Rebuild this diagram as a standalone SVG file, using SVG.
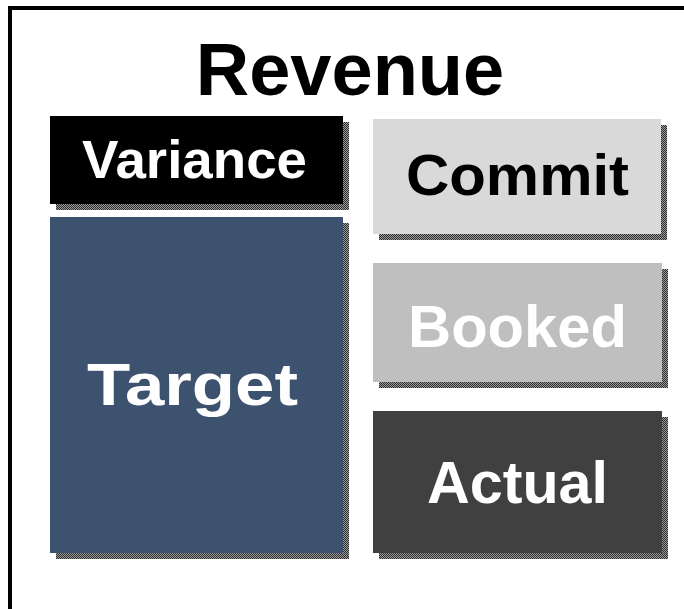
<svg xmlns="http://www.w3.org/2000/svg" width="684" height="609" viewBox="0 0 684 609">
  <defs>
    <pattern id="dither" width="2" height="2" patternUnits="userSpaceOnUse">
      <rect width="2" height="2" fill="#9a9a9a"/>
      <rect x="0" y="0" width="1" height="1" fill="#2e2e2e"/>
      <rect x="1" y="1" width="1" height="1" fill="#2e2e2e"/>
    </pattern>
  </defs>
  <style>
    text { font-family: "Liberation Sans", Arial, sans-serif; font-weight: bold; text-anchor: middle; }
    .shadow { fill: url(#dither); }
    .w { fill: #ffffff; }
    .k { fill: #000000; }
  </style>
  <rect width="684" height="609" fill="#ffffff"/>
  <g id="frame">
    <rect x="8" y="6" width="676" height="4" fill="#000000"/>
    <rect x="8" y="6" width="4" height="603" fill="#000000"/>
    <text x="350" y="95" font-size="74" class="k">Revenue</text>
  </g>
  <g id="variance">
    <rect class="shadow" x="56" y="122" width="293" height="88"/>
    <rect x="50" y="116" width="293" height="88" fill="#000000"/>
    <text x="194.5" y="178" font-size="54" class="w" textLength="225" lengthAdjust="spacingAndGlyphs">Variance</text>
  </g>
  <g id="target">
    <rect class="shadow" x="56" y="223" width="293" height="336"/>
    <rect x="50" y="217" width="293" height="336" fill="#3d526e"/>
    <text x="192.5" y="405" font-size="60" class="w" textLength="211" lengthAdjust="spacingAndGlyphs">Target</text>
  </g>
  <g id="commit">
    <rect class="shadow" x="379" y="125" width="288" height="115"/>
    <rect x="373" y="119" width="288" height="115" fill="#d9d9d9"/>
    <text x="517.5" y="195" font-size="58" class="k" textLength="223" lengthAdjust="spacingAndGlyphs">Commit</text>
  </g>
  <g id="booked">
    <rect class="shadow" x="379" y="269" width="289" height="119"/>
    <rect x="373" y="263" width="289" height="119" fill="#bfbfbf"/>
    <text x="517.5" y="347" font-size="60" class="w" textLength="219" lengthAdjust="spacingAndGlyphs">Booked</text>
  </g>
  <g id="actual">
    <rect class="shadow" x="379" y="417" width="289" height="142"/>
    <rect x="373" y="411" width="289" height="142" fill="#404040"/>
    <text x="517.5" y="503" font-size="60" class="w" textLength="181" lengthAdjust="spacingAndGlyphs">Actual</text>
  </g>
  <g id="connectors"></g>
</svg>
